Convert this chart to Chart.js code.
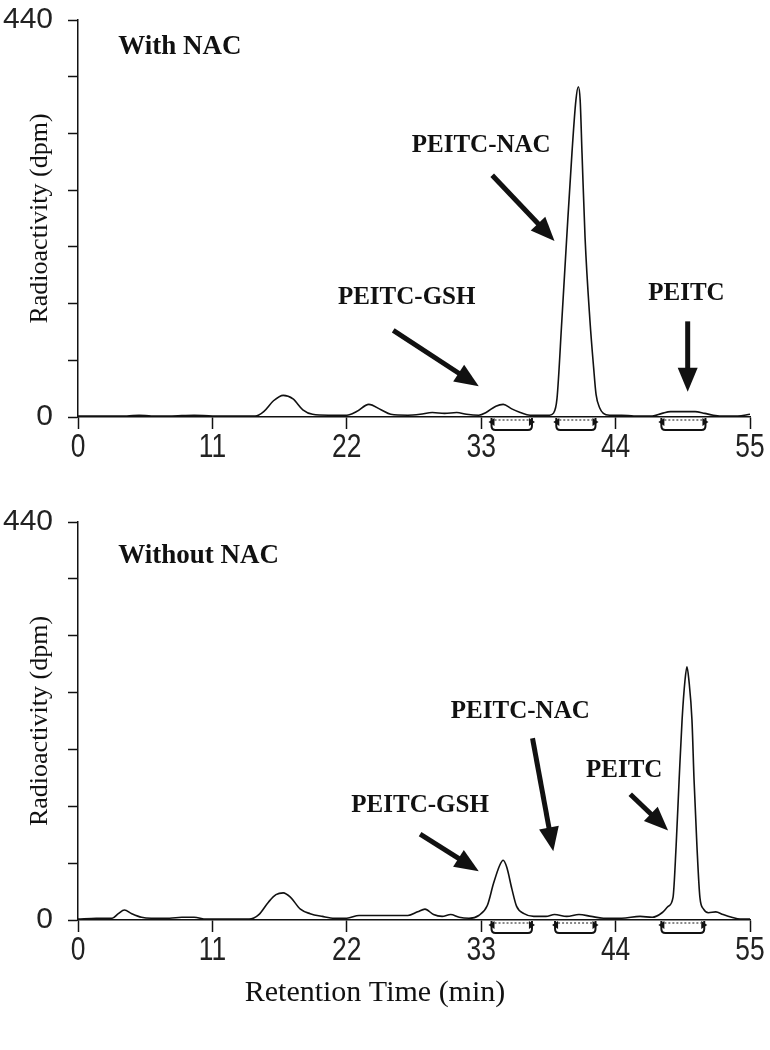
<!DOCTYPE html>
<html><head><meta charset="utf-8">
<script src="https://cdn.jsdelivr.net/npm/chart.js@4/dist/chart.umd.min.js"></script>
<style>
html,body{margin:0;padding:0;background:#fff;}
#wrap{position:relative;width:770px;height:1050px;}
canvas{position:absolute;left:0;}
</style></head><body>
<div id="wrap">
<canvas id="topChart" width="770" height="475" style="top:0px"></canvas>
<canvas id="botChart" width="770" height="550" style="top:500px"></canvas>
</div>
<script>
// ---- data ----
const xTicks = [0, 11, 22, 33, 44, 55];
const xTickLabels = ['0', '11', '22', '33', '44', '55'];
const yTicks = [0, 62.86, 125.71, 188.57, 251.43, 314.29, 377.14, 440];
const yTickLabels = ['0', '', '', '', '', '', '', '440'];

// With NAC: retention time (min) and radioactivity (dpm)
const withNacTime = [0, 2, 4, 5, 6, 7.5, 9.5, 11, 13, 14.5, 15.2, 16, 16.8, 17.6, 18.4, 19.2, 20.5, 22, 22.8, 23.8, 24.8, 25.6, 27, 28, 29, 30, 31, 31.8, 32.8, 33.4, 34.2, 34.8, 35.5, 36.2, 37, 38, 38.6, 38.9, 39.2, 39.6, 40.0, 40.43, 40.75, 40.95, 41.1, 41.25, 41.5, 41.9, 42.2, 42.4, 42.7, 43.0, 43.5, 44.5, 45.5, 47, 47.8, 48.5, 49.5, 50.5, 51.3, 52, 53, 54, 55];
const withNacDpm = [1, 1, 1, 2, 1, 1, 2, 1, 1, 1, 6, 18, 24, 20, 8, 3, 2, 2, 6, 14, 8, 3, 2, 3, 5, 4, 5, 3, 2, 5, 12, 14, 9, 5, 2, 2, 2, 4, 20, 107, 199, 293, 351, 366, 351, 293, 199, 107, 55, 25, 10, 4, 2, 2, 1, 1, 4, 6, 6, 6, 4, 2, 1, 1, 3];

// Without NAC
const withoutNacTime = [0, 1.5, 2.8, 3.3, 3.8, 4.4, 5.2, 6, 7.5, 8.5, 9.5, 10.5, 12, 14, 14.8, 15.6, 16.2, 16.8, 17.4, 18.2, 19, 20, 21, 22, 23, 25, 27, 27.8, 28.4, 29.1, 29.8, 30.5, 31.2, 32, 32.8, 33.5, 34.0, 34.5, 34.8, 35.1, 35.5, 35.9, 36.5, 37.3, 38.3, 39, 40, 41, 42, 43, 44.5, 46, 47, 47.8, 48.3, 48.7, 48.95, 49.2, 49.44, 49.68, 49.84, 50.0, 50.25, 50.42, 50.66, 50.9, 51.2, 51.6, 52.2, 52.8, 53.5, 54.2, 55];
const withoutNacDpm = [1, 2, 2, 7, 11, 7, 3, 2, 2, 3, 3, 1, 1, 1, 6, 20, 28, 30, 25, 12, 7, 4, 2, 2, 5, 5, 5, 9, 12, 6, 4, 6, 3, 2, 5, 16, 40, 60, 66, 58, 35, 15, 7, 4, 4, 6, 4, 6, 4, 2, 2, 4, 3, 8, 15, 25, 81, 155, 221, 265, 280, 265, 221, 155, 81, 25, 12, 8, 9, 6, 3, 1, 1];

// collected fractions (min)
const withNacFractions = [[33.6, 37.4], [38.9, 42.6], [47.5, 51.6]];
const withoutNacFractions = [[33.6, 37.4], [38.8, 42.6], [47.5, 51.5]];

// ---- annotation layout (data coordinates) ----
const withNacAnnot = {
  heading: {text: 'With NAC', x: 3.3, y: 410},
  labels: [
    {text: 'PEITC-NAC', x: 33.0, y: 301, arrow: [33.9, 268, 39.0, 195]},
    {text: 'PEITC-GSH', x: 26.9, y: 132, arrow: [25.8, 96, 32.8, 34]},
    {text: 'PEITC', x: 49.8, y: 137, arrow: [49.9, 106, 49.9, 28]}
  ],
  fractions: withNacFractions
};
const withoutNacAnnot = {
  heading: {text: 'Without NAC', x: 3.3, y: 402},
  labels: [
    {text: 'PEITC-NAC', x: 36.2, y: 230, arrow: [37.2, 201, 38.9, 76]},
    {text: 'PEITC-GSH', x: 28.0, y: 126, arrow: [28.0, 95, 32.8, 54]},
    {text: 'PEITC', x: 44.7, y: 165, arrow: [45.2, 139, 48.3, 99]}
  ],
  fractions: withoutNacFractions
};

const INK = '#111';
const X_TICK_FONT = '33px "Liberation Sans", Arial, sans-serif';
const Y_TICK_FONT = '30px "Liberation Sans", Arial, sans-serif';

function drawArrow(ctx, x1, y1, x2, y2) {
  const ang = Math.atan2(y2 - y1, x2 - x1);
  const hl = 24, hw = 10;
  const bx = x2 - hl * Math.cos(ang), by = y2 - hl * Math.sin(ang);
  ctx.lineWidth = 5;
  ctx.lineCap = 'butt';
  ctx.beginPath();
  ctx.moveTo(x1, y1);
  ctx.lineTo(bx + 2 * Math.cos(ang), by + 2 * Math.sin(ang));
  ctx.stroke();
  ctx.beginPath();
  ctx.moveTo(x2, y2);
  ctx.lineTo(bx + hw * Math.sin(ang), by - hw * Math.cos(ang));
  ctx.lineTo(bx - hw * Math.sin(ang), by + hw * Math.cos(ang));
  ctx.closePath();
  ctx.fill();
}

function drawFraction(ctx, x1, x2, y0) {
  const h = 13, r = 4;
  ctx.lineWidth = 2;
  ctx.beginPath();
  ctx.moveTo(x1 + 3, y0 + 1);
  ctx.lineTo(x1 + 3, y0 + h - r);
  ctx.quadraticCurveTo(x1 + 3, y0 + h, x1 + 3 + r, y0 + h);
  ctx.lineTo(x2 - 3 - r, y0 + h);
  ctx.quadraticCurveTo(x2 - 3, y0 + h, x2 - 3, y0 + h - r);
  ctx.lineTo(x2 - 3, y0 + 1);
  ctx.stroke();
  ctx.setLineDash([2, 2]);
  ctx.lineWidth = 1;
  ctx.beginPath();
  ctx.moveTo(x1 + 6, y0 + 3);
  ctx.lineTo(x2 - 6, y0 + 3);
  ctx.stroke();
  ctx.setLineDash([]);
  [[x1 + 3, -1], [x2 - 3, 1]].forEach(([x, d]) => {
    ctx.beginPath();
    ctx.moveTo(x + d * 3, y0 + 5);
    ctx.lineTo(x - d * 3, y0 + 1);
    ctx.lineTo(x - d * 3, y0 + 9);
    ctx.closePath();
    ctx.fill();
  });
}

function condensedText(ctx, text, x, y, align, sx) {
  ctx.save();
  ctx.translate(x, y);
  ctx.scale(sx, 1);
  ctx.textAlign = align;
  ctx.fillText(text, 0, 0);
  ctx.restore();
}

const annotPlugin = {
  id: 'annot',
  afterDraw(chart, args, opts) {
    const {ctx} = chart;
    const xs = chart.scales.x, ys = chart.scales.y;
    ctx.save();
    // tick labels at the library's tick positions
    ctx.fillStyle = '#222';
    ctx.textBaseline = 'middle';
    ctx.font = X_TICK_FONT;
    xs.ticks.forEach((t, i) => {
      condensedText(ctx, xTickLabels[i], xs.getPixelForTick(i), xs.top + 31, 'center', 0.8);
    });
    ctx.font = Y_TICK_FONT;
    ys.ticks.forEach((t, i) => {
      if (yTickLabels[i]) condensedText(ctx, yTickLabels[i], ys.right - 25, ys.getPixelForTick(i), 'right', 1);
    });
    ctx.fillStyle = INK;
    ctx.strokeStyle = INK;
    // heading
    ctx.font = 'bold 27px "Liberation Serif"';
    ctx.textAlign = 'left';
    ctx.textBaseline = 'middle';
    ctx.fillText(opts.heading.text, xs.getPixelForValue(opts.heading.x), ys.getPixelForValue(opts.heading.y));
    // labels + arrows
    ctx.font = 'bold 25px "Liberation Serif"';
    ctx.textAlign = 'center';
    opts.labels.forEach(l => {
      ctx.fillText(l.text, xs.getPixelForValue(l.x), ys.getPixelForValue(l.y));
      const a = l.arrow;
      drawArrow(ctx, xs.getPixelForValue(a[0]), ys.getPixelForValue(a[1]), xs.getPixelForValue(a[2]), ys.getPixelForValue(a[3]));
    });
    // fraction brackets below baseline
    const y0 = ys.getPixelForValue(0);
    opts.fractions.forEach(f => {
      drawFraction(ctx, xs.getPixelForValue(f[0]), xs.getPixelForValue(f[1]), y0);
    });
    ctx.restore();
  }
};

function makeChart(id, times, values, annot, layout, titleOpts) {
  return new Chart(document.getElementById(id), {
    type: 'line',
    data: {
      datasets: [{
        data: times.map((t, i) => ({x: t, y: values[i]})),
        borderColor: INK,
        borderWidth: 1.6,
        pointRadius: 0,
        fill: false,
        tension: 0.4,
        cubicInterpolationMode: 'monotone'
      }]
    },
    options: {
      responsive: false,
      animation: false,
      layout: {padding: layout},
      plugins: {
        legend: {display: false},
        tooltip: {enabled: false},
        title: titleOpts,
        annot: annot
      },
      scales: {
        x: {
          type: 'linear', min: 0, max: 55,
          afterBuildTicks: s => { s.ticks = xTicks.map(v => ({value: v})); },
          afterFit: s => { s.height = 45; },
          grid: {drawOnChartArea: false, drawTicks: true, tickLength: 12, tickWidth: 1.5, tickColor: INK},
          border: {display: true, color: INK, width: 1.5},
          ticks: {
            font: {size: 8}, color: 'rgba(0,0,0,0)', padding: 0, maxRotation: 0, autoSkip: false,
            callback: (v, i) => xTickLabels[i]
          }
        },
        y: {
          type: 'linear', min: 0, max: 440,
          afterBuildTicks: s => { s.ticks = yTicks.map(v => ({value: v})); },
          afterFit: s => { s.width = 78; },
          grid: {drawOnChartArea: false, drawTicks: true, tickLength: 10, tickWidth: 1.5, tickColor: INK},
          border: {display: true, color: INK, width: 1.5},
          ticks: {
            font: {size: 8}, color: 'rgba(0,0,0,0)', padding: 12, autoSkip: false,
            callback: (v, i) => yTickLabels[i]
          },
          title: {
            display: true, text: 'Radioactivity (dpm)',
            font: {family: '"Liberation Serif"', size: 26},
            color: INK, padding: {top: 25, bottom: 0}
          }
        }
      }
    },
    plugins: [annotPlugin]
  });
}

makeChart('topChart', withNacTime, withNacDpm, withNacAnnot,
  {top: 20, right: 20, left: 0, bottom: 13}, {display: false});
makeChart('botChart', withoutNacTime, withoutNacDpm, withoutNacAnnot,
  {top: 22, right: 20, left: 0, bottom: 9},
  {display: true, position: 'bottom', text: 'Retention Time (min)',
   font: {family: '"Liberation Serif"', size: 30, weight: 'normal'},
   color: INK, padding: {top: 10, bottom: 30}});
</script>
</body></html>
